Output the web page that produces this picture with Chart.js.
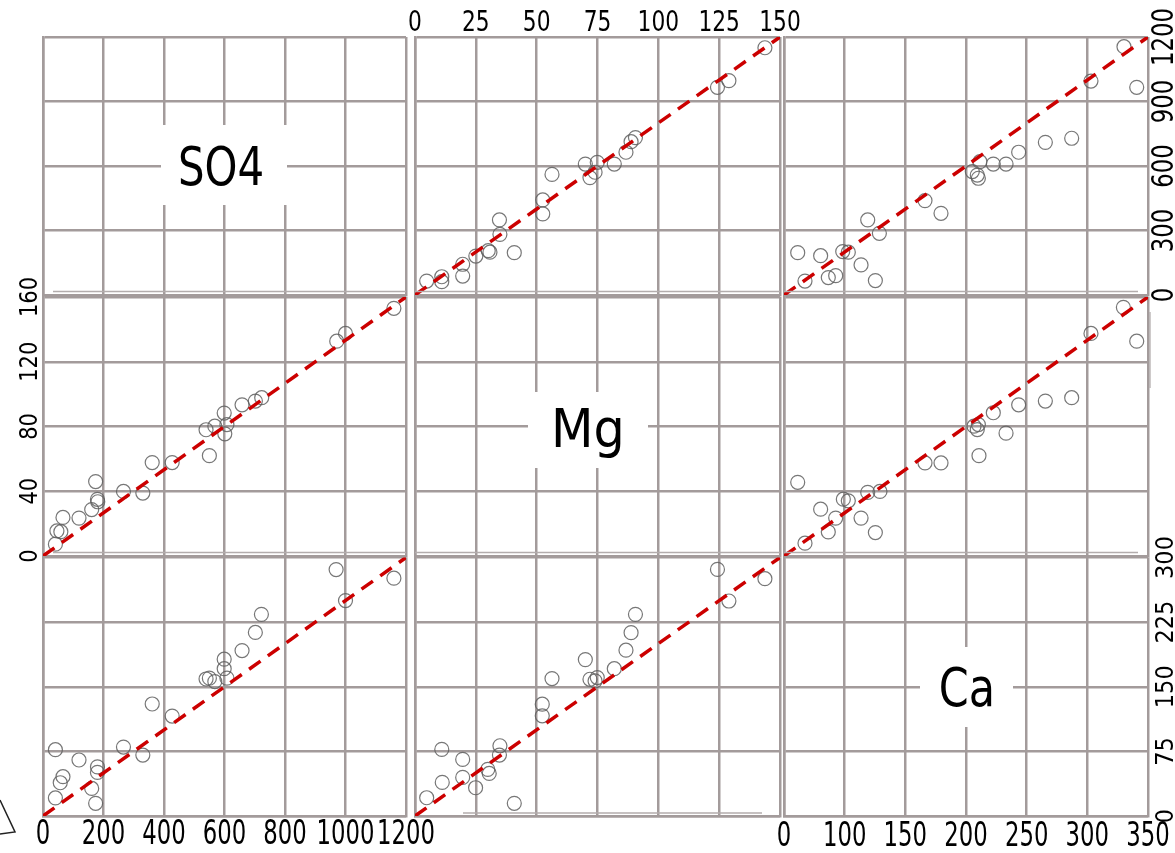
<!DOCTYPE html>
<html>
<head>
<meta charset="utf-8">
<script src="https://cdn.jsdelivr.net/npm/chart.js@4.4.0/dist/chart.umd.min.js"></script>
<style>
  body { margin: 0; background: #fff; }
  #wrap { position: relative; width: 1175px; height: 853px; overflow: hidden; }
  #wrap canvas { position: absolute; left: 0; top: 0; }
</style>
</head>
<body>
<div id="wrap"></div>
<script>
// --- Daten ---
// Zeile 1: SO4 (y) gegen Mg / Ca (x)
const mgX_so4 = [4.8, 11, 11, 19.6, 19.6, 25, 30.1, 30.8, 34.7, 34.9, 40.8, 52.5, 52.5, 56.3, 70, 71.9, 74, 74.9, 81.9, 86.7, 88.8, 90.6, 124.3, 129, 143.8];
const so4Y_mg = [65, 85, 62, 143, 88, 181, 206, 199, 349, 282, 197, 442, 377, 561, 609, 546, 571, 617, 609, 664, 713, 732, 966, 997, 1150];
const caX_so4 = [11.3, 17.3, 30.2, 36.5, 42.6, 48.4, 53, 63.5, 69, 75.3, 78.6, 116.2, 129.4, 155.2, 159.3, 160.2, 161.5, 172.5, 183, 193.4, 215.4, 237.1, 253, 280.2, 290.7];
const so4Y_ca = [197, 65, 183, 81, 90, 202, 199, 140, 349, 67, 287, 439, 380, 574, 558, 543, 620, 609, 609, 664, 710, 729, 995, 1155, 966];
// Zeile 2: Mg (y) gegen SO4 / Ca (x)
const so4X_mg = [41, 46, 59, 66, 119, 161, 174, 180, 181, 266, 330, 361, 427, 539, 550, 568, 599, 601, 608, 658, 702, 723, 971, 1000, 1160];
const mgY_so4 = [7.3, 15.5, 15, 23.8, 23.4, 28.7, 46, 35, 33.5, 39.9, 38.9, 57.7, 57.7, 78, 62, 80.2, 88.3, 75.5, 81.2, 93.4, 95.7, 97.8, 132.7, 137.5, 153];
const caX_mg = [11.3, 17.3, 30.2, 36.5, 42.6, 48.9, 53, 63.5, 69, 75.3, 79.1, 116.2, 129.4, 156.6, 160.2, 159.3, 160.7, 172.5, 183, 193.4, 215.4, 237.1, 253, 279.7, 290.7];
const mgY_ca = [45.5, 7.9, 28.9, 14.9, 23.4, 35.1, 34.1, 23.4, 39.3, 14.5, 39.9, 57.5, 57.5, 80.2, 81.2, 78.1, 62, 88.5, 75.9, 93.4, 95.7, 97.8, 137.5, 153.6, 132.7];
// Zeile 3: Ca (y) gegen SO4 / Mg (x)
const so4X_ca = [41, 41, 57, 66, 119, 161, 174, 180, 180, 266, 330, 361, 427, 539, 550, 568, 599, 599, 608, 658, 702, 722, 969, 1000, 1160];
const caY_so4 = [21, 77, 38.6, 45.6, 65, 32, 14.7, 57, 50.6, 80, 70.7, 130, 116, 159, 160, 156, 182, 171, 160, 192, 213, 234, 286, 250, 276];
const mgX_ca = [4.8, 11, 11.2, 19.6, 19.6, 24.9, 29.9, 30.5, 34.9, 34.7, 40.8, 52.3, 52.3, 56.3, 70, 71.9, 74, 74.9, 81.9, 86.7, 88.8, 90.6, 124.3, 129, 143.8];
const caY_mg = [21.2, 77.3, 39, 65.7, 44.8, 32.8, 54.1, 49.4, 81.5, 70.7, 14.7, 129.8, 116.3, 159.5, 181.5, 158.7, 156.8, 160.7, 171, 192.4, 212.8, 234, 286.2, 249.5, 275.4];

// Achsenbereiche und Beschriftungen
const so4Max = 1200, mgXMax = 150, mgYMax = 160, caMax = 300;
const so4BottomTicks = [0, 200, 400, 600, 800, 1000, 1200];
const so4RightTicks = [0, 300, 600, 900, 1200];
const mgTopTicks = [0, 25, 50, 75, 100, 125, 150];
const mgLeftTicks = [0, 40, 80, 120, 160];
const caRightTicks = [0, 75, 150, 225, 300];
const caBottomTicks = [0, 50, 100, 150, 200, 250, 300];
const caBottomTexts = ['0', '100', '150', '200', '250', '300', '350'];

// --- Layout ---
const W = 1175, H = 853;
const cols = [[43, 406], [415, 780], [784, 1148]];
const rows = [[37, 295], [297, 556], [557.5, 816]];
const gridColor = '#a39b9b';
const FONT = '"DejaVu Sans", Verdana, sans-serif';
const wrap = document.getElementById('wrap');

function drawText(ctx, txt, x, y, size, sx, rot) {
  ctx.save();
  ctx.translate(x, y);
  if (rot) ctx.rotate(rot);
  ctx.scale(sx, 1);
  ctx.font = size + 'px ' + FONT;
  ctx.fillStyle = '#000';
  ctx.textAlign = 'center';
  ctx.textBaseline = 'alphabetic';
  ctx.fillText(txt, 0, 0);
  ctx.restore();
}

function makePanel(ci, ri, xMax, yMax, xs, ys, extra) {
  const cv = document.createElement('canvas');
  cv.width = W; cv.height = H;
  wrap.appendChild(cv);
  const [x0, x1] = cols[ci];
  const [y0, y1] = rows[ri];
  extra = extra || {};

  const datasets = [];
  if (xs) {
    datasets.push({
      data: [{x: 0, y: 0}, {x: xMax, y: yMax}],
      showLine: true,
      borderColor: '#cc0000',
      borderWidth: 3.5,
      borderDash: [14, 9],
      pointRadius: 0
    });
    datasets.push({
      data: xs.map((v, i) => ({x: v, y: ys[i]})),
      pointRadius: 7,
      pointBorderWidth: 1.2,
      pointBorderColor: 'rgba(95,95,95,0.85)',
      pointBackgroundColor: 'rgba(0,0,0,0)'
    });
  }

  const textPlugin = {
    id: 'panelText' + ci + ri,
    afterDraw(chart) {
      const ctx = chart.ctx;
      (extra.ticks || []).forEach(t => {
        const sc = chart.scales[t.axis];
        t.values.forEach((v, i) => {
          const txt = t.texts ? t.texts[i] : String(v);
          const p = sc.getPixelForValue(v);
          if (t.axis === 'x') drawText(ctx, txt, p, t.pos, t.size, t.sx, 0);
          else drawText(ctx, txt, t.pos, p, t.size, t.sx, -Math.PI / 2);
        });
      });
      if (extra.name) {
        const n = extra.name;
        ctx.save();
        ctx.fillStyle = '#fff';
        ctx.fillRect(n.box[0], n.box[1], n.box[2] - n.box[0], n.box[3] - n.box[1]);
        ctx.restore();
        drawText(ctx, n.text, n.cx, n.base, 53, n.sx, 0);
      }
      if (extra.deco) extra.deco(ctx);
    }
  };

  new Chart(cv, {
    type: 'scatter',
    data: { datasets: datasets },
    options: {
      responsive: false,
      animation: false,
      events: [],
      layout: { padding: { left: x0, top: y0, right: W - x1, bottom: H - y1 } },
      plugins: { legend: { display: false }, tooltip: { enabled: false } },
      scales: {
        x: {
          type: 'linear', min: 0, max: xMax,
          ticks: { display: false, stepSize: xMax / 6 },
          grid: { color: gridColor, lineWidth: 2.5, drawTicks: false },
          border: { display: true, color: gridColor, width: 2.5 }
        },
        y: {
          type: 'linear', min: 0, max: yMax,
          ticks: { display: false, stepSize: yMax / 4 },
          grid: { color: gridColor, lineWidth: 2.5, drawTicks: false },
          border: { display: true, color: gridColor, width: 2.5 }
        }
      }
    },
    plugins: [textPlugin]
  });
}

// Diagonale: Variablennamen
makePanel(0, 0, so4Max, so4Max, null, null, {
  name: { text: 'SO4', cx: 221, base: 185, sx: 0.79, box: [161, 125, 287, 205] }
});
makePanel(1, 1, mgXMax, mgYMax, null, null, {
  name: { text: 'Mg', cx: 588, base: 447, sx: 0.93, box: [528, 392, 648, 468] }
});
makePanel(2, 2, caMax, caMax, null, null, {
  name: { text: 'Ca', cx: 967, base: 706, sx: 0.81, box: [920, 647, 1013, 727] },
  ticks: [
    { axis: 'x', values: caBottomTicks, texts: caBottomTexts, pos: 846, size: 33, sx: 0.69 },
    { axis: 'y', values: caRightTicks, pos: 1173, size: 25, sx: 0.9 }
  ]
});

// Zeile 1
makePanel(1, 0, mgXMax, so4Max, mgX_so4, so4Y_mg, {
  ticks: [{ axis: 'x', values: mgTopTicks, pos: 31, size: 29, sx: 0.75 }]
});
makePanel(2, 0, caMax, so4Max, caX_so4, so4Y_ca, {
  ticks: [{ axis: 'y', values: so4RightTicks, pos: 1173, size: 30, sx: 0.76 }]
});

// Zeile 2
makePanel(0, 1, so4Max, mgYMax, so4X_mg, mgY_so4, {
  ticks: [{ axis: 'y', values: mgLeftTicks, pos: 37, size: 25, sx: 0.84 }]
});
makePanel(2, 1, caMax, mgYMax, caX_mg, mgY_ca, null);

// Zeile 3
makePanel(0, 2, so4Max, caMax, so4X_ca, caY_so4, {
  ticks: [{ axis: 'x', values: so4BottomTicks, pos: 844, size: 33, sx: 0.69 }]
});
makePanel(1, 2, mgXMax, caMax, mgX_ca, caY_mg, {
  deco(ctx) {
    // feine Hilfslinien und Reste aus der Vorlage
    ctx.save();
    ctx.strokeStyle = '#b3adad';
    ctx.lineWidth = 1.3;
    [[291.5, 53, 406], [291.5, 415, 780], [291.5, 784, 1138],
     [552.5, 53, 406], [552.5, 415, 780], [552.5, 784, 1138],
     [813, 463, 762]].forEach(l => {
      ctx.beginPath(); ctx.moveTo(l[1], l[0]); ctx.lineTo(l[2], l[0]); ctx.stroke();
    });
    ctx.beginPath(); ctx.moveTo(1150, 312); ctx.lineTo(1150, 388); ctx.stroke();
    ctx.strokeStyle = '#222';
    ctx.lineWidth = 1.5;
    ctx.beginPath(); ctx.moveTo(0, 800); ctx.lineTo(15, 832); ctx.lineTo(0, 834); ctx.stroke();
    ctx.restore();
  }
});
</script>
</body>
</html>
